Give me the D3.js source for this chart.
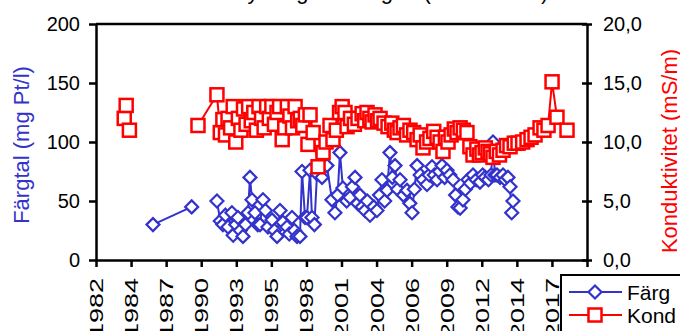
<!DOCTYPE html>
<html>
<head>
<meta charset="utf-8">
<script src="https://cdn.jsdelivr.net/npm/d3@7"></script>
<style>
  body { margin: 0; background: #fff; }
  svg { display: block; font-family: "Liberation Sans", Arial, sans-serif; }
</style>
</head>
<body>
<div id="chart"></div>
<script>
// x axis: date axis, ticks every 2.72 years starting 1982.26
const xStart = 1982.26;
const xStep = 2.72;
const xTickLabels = ["1982", "1984", "1987", "1990", "1993", "1995", "1998",
  "2001", "2004", "2006", "2009", "2012", "2014", "2017", "2020"];
const leftTicks = [0, 50, 100, 150, 200];
const rightTicks = [0, 5, 10, 15, 20];

// Färgtal (mg Pt/l), null = gap
const fargYear = [1986.68, 1989.68, null,
  1991.64, 1991.9, 1992.1, 1992.3, 1992.5, 1992.8, 1992.9, 1993.1, 1993.27, 1993.45,
  1993.66, 1993.85, 1994.05, 1994.2, 1994.36, 1994.59, 1994.8, 1994.98, 1995.21, 1995.4,
  1995.6, 1995.91, 1996.1, 1996.3, 1996.53, 1996.75, 1997.07, 1997.25, 1997.46, 1997.65,
  1997.85, 1998.08, 1998.24, 1998.47, 1998.62, 1998.86, 1999.01, 1999.2, 1999.4, 1999.79,
  2000.17, 2000.56, 2000.79, 2001.0, 2001.18, 2001.41, 2001.7, 2001.96, 2002.15, 2002.35,
  2002.55, 2002.73, 2002.9, 2003.12, 2003.3, 2003.51, 2003.8, 2004.05, 2004.25, 2004.44,
  2004.65, 2004.83, 2005.06, 2005.25, 2005.45, 2005.65, 2005.84, 2006.1, 2006.38, 2006.6,
  2006.77, 2006.95, 2007.16, 2007.4, 2007.62, 2007.93, 2008.1, 2008.32, 2008.5, 2008.71,
  2008.9, 2009.1, 2009.3, 2009.48, 2009.7, 2009.95, 2010.15, 2010.33, 2010.5, 2010.72,
  2010.9, 2011.11, 2011.3, 2011.5, 2011.75, 2012.04, 2012.25, 2012.43, 2012.7, 2012.9,
  2013.05, 2013.2, 2013.36, 2013.6, 2013.83, 2014.0, 2014.21, 2014.37, 2014.5, 2014.6];
const fargValue = [30, 45, null,
  50, 33, 30, 38, 28, 40, 21, 30, 36, 25,
  20, 30, 40, 70, 51, 40, 30, 30, 51, 42,
  28, 34, 25, 20, 42, 32, 28, 22, 36, 25,
  20, 20, 75, 36, 36, 76, 36, 30, 73, 70,
  80, 51, 40, 55, 91, 61, 50, 53, 62, 70,
  48, 55, 45, 42, 50, 38, 45, 42, 55, 68,
  50, 59, 91, 70, 80, 60, 68, 55, 59, 48,
  40, 60, 80, 72, 68, 64, 72, 79, 72, 68,
  75, 80, 70, 76, 72, 68, 55, 45, 44, 51,
  60, 68, 65, 72, 68, 66, 72, 70, 68, 72,
  100, 72, 72, 70, 72, 68, 70, 62, 40, 50];

// Konduktivitet (mS/m), null = gap
const kondYear = [1984.45, 1984.6, 1984.85, null,
  1990.17, 1991.64, 1991.9, 1992.1, 1992.3, 1992.5, 1992.7, 1992.9, 1993.1, 1993.3,
  1993.5, 1993.7, 1993.9, 1994.1, 1994.3, 1994.5, 1994.7, 1994.9, 1995.1, 1995.3,
  1995.5, 1995.7, 1995.9, 1996.1, 1996.3, 1996.5, 1996.7, 1996.9, 1997.1, 1997.3,
  1997.5, 1997.7, 1997.9, 1998.1, 1998.3, 1998.5, 1998.7, 1998.86, 1999.1, 1999.48,
  1999.87, 2000.1, 2000.41, 2000.64, 2000.9, 2001.15, 2001.35, 2001.57, 2001.73, 2002.0,
  2002.3, 2002.58, 2002.9, 2003.1, 2003.28, 2003.5, 2003.67, 2003.9, 2004.1, 2004.29,
  2004.6, 2004.91, 2005.2, 2005.4, 2005.61, 2005.84, 2006.1, 2006.35, 2006.61, 2006.9,
  2007.16, 2007.4, 2007.62, 2007.9, 2008.16, 2008.45, 2008.71, 2008.95, 2009.17, 2009.36,
  2009.56, 2009.8, 2010.05, 2010.26, 2010.5, 2010.75, 2011.03, 2011.26, 2011.5, 2011.8,
  2012.0, 2012.2, 2012.45, 2012.66, 2012.85, 2013.05, 2013.3, 2013.55, 2013.83, 2014.1,
  2014.37, 2014.7, 2014.99, 2015.35, 2015.69, 2016.0, 2016.31, 2016.7, 2017.0, 2017.32,
  2017.63, 2018.01, 2018.79];
const kondValue = [12.0, 13.1, 11.0, null,
  11.4, 14.0, 10.8, 11.9, 10.6, 12.0, 11.2, 13.0, 10.0, 12.0,
  11.0, 12.8, 11.5, 13.0, 11.8, 12.5, 11.0, 13.0, 12.0, 11.2,
  13.0, 12.0, 13.0, 11.5, 12.5, 13.0, 10.2, 11.2, 13.0, 12.2,
  11.2, 13.0, 11.8, 12.0, 11.4, 12.3, 9.8, 12.3, 10.8, 7.9,
  9.1, 10.0, 11.4, 10.2, 11.0, 12.5, 13.0, 12.5, 11.3, 12.0,
  11.5, 12.0, 12.4, 11.8, 12.5, 12.0, 11.7, 12.3, 11.8, 12.0,
  11.6, 11.3, 11.6, 11.0, 10.8, 11.2, 11.4, 10.6, 11.0, 10.8,
  10.2, 10.6, 9.5, 10.0, 10.3, 10.9, 10.4, 10.0, 9.2, 10.4,
  10.0, 10.6, 11.1, 10.8, 11.2, 11.0, 10.8, 9.6, 8.9, 9.4,
  8.9, 9.1, 9.5, 9.2, 9.0, 8.7, 9.2, 8.9, 9.3, 9.7,
  9.6, 9.9, 9.9, 10.0, 10.2, 10.4, 10.6, 11.2, 11.0, 11.4,
  15.1, 12.1, 11.0];

const W = 680, H = 331;
const plot = { left: 96, right: 587, top: 24, bottom: 260 };
const blue = "#3333cc", red = "#ff0000";

const svg = d3.select("#chart").append("svg")
  .attr("width", W).attr("height", H);

const x = d3.scaleLinear()
  .domain([xStart, xStart + xStep * (xTickLabels.length - 1)])
  .range([plot.left, plot.right]);
const yL = d3.scaleLinear().domain([0, 200]).range([plot.bottom, plot.top]);
const yR = d3.scaleLinear().domain([0, 20]).range([plot.bottom, plot.top]);

const sv = d3.formatLocale({ decimal: ",", thousands: " ", grouping: [3], currency: ["", " kr"] });

// title (only its descenders fall inside the picture)
svg.append("text")
  .attr("x", 236).attr("y", -1)
  .attr("font-size", 22)
  .text("Lyrån göl vid Ågen (1982–2018)");

// top border of plot
svg.append("line")
  .attr("x1", plot.left).attr("x2", plot.right)
  .attr("y1", plot.top).attr("y2", plot.top)
  .attr("stroke", "#000").attr("stroke-width", 2.5);

// axes
const xTicks = xTickLabels.map((d, i) => xStart + i * xStep);
const gx = svg.append("g")
  .attr("transform", `translate(0,${plot.bottom})`)
  .call(d3.axisBottom(x).tickValues(xTicks).tickSize(7).tickSizeOuter(0).tickFormat(""));

gx.selectAll(".tick").append("text")
  .attr("fill", "#000")
  .attr("font-size", 18)
  .attr("text-anchor", "end")
  .attr("transform", "translate(0,18) rotate(-90) scale(1.5,1)")
  .attr("dy", "0.36em")
  .text((d, i) => xTickLabels[i]);

const gl = svg.append("g")
  .attr("transform", `translate(${plot.left},0)`)
  .call(d3.axisLeft(yL).tickValues(leftTicks).tickSize(7).tickSizeOuter(0).tickPadding(9));
gl.selectAll(".tick text").attr("font-size", 20).attr("fill", "#000");

const gr = svg.append("g")
  .attr("transform", `translate(${plot.right},0)`)
  .call(d3.axisRight(yR).tickValues(rightTicks).tickSize(5).tickSizeOuter(0).tickPadding(11)
    .tickFormat(sv.format(".1f")));
gr.selectAll(".tick line").attr("x1", -5);
gr.selectAll(".tick text").attr("font-size", 20).attr("fill", "#000");

svg.selectAll(".domain, .tick line").attr("stroke", "#000").attr("stroke-width", 2.5);

// axis titles
svg.append("text")
  .attr("transform", "translate(29,145) rotate(-90)")
  .attr("text-anchor", "middle")
  .attr("font-size", 22)
  .attr("fill", blue)
  .text("Färgtal (mg Pt/l)");

svg.append("text")
  .attr("transform", "translate(677,151) rotate(-90)")
  .attr("text-anchor", "middle")
  .attr("font-size", 22)
  .attr("fill", red)
  .text("Konduktivitet (mS/m)");

// series
const diamond = "M0,-6.5L6.5,0L0,6.5L-6.5,0Z";

function series(years, values, yScale, color, kind) {
  const pts = years.map((d, i) => ({ t: d, v: values[i] }));
  const line = d3.line()
    .defined(d => d.t != null && d.v != null)
    .x(d => x(d.t)).y(d => yScale(d.v));
  const g = svg.append("g");
  g.append("path")
    .datum(pts)
    .attr("d", line)
    .attr("fill", "none")
    .attr("stroke", color)
    .attr("stroke-width", 2);
  const good = pts.filter(d => d.t != null && d.v != null);
  if (kind === "diamond") {
    g.selectAll("path.m").data(good).enter().append("path")
      .attr("class", "m")
      .attr("d", diamond)
      .attr("transform", d => `translate(${x(d.t)},${yScale(d.v)})`)
      .attr("fill", "#fff").attr("stroke", color).attr("stroke-width", 2.2);
  } else {
    g.selectAll("rect").data(good).enter().append("rect")
      .attr("x", d => x(d.t) - 6.5).attr("y", d => yScale(d.v) - 6.5)
      .attr("width", 13).attr("height", 13)
      .attr("fill", "#fff").attr("stroke", color).attr("stroke-width", 2.5);
  }
}

series(fargYear, fargValue, yL, blue, "diamond");
series(kondYear, kondValue, yR, red, "square");

// legend
const lg = svg.append("g").attr("transform", "translate(561,275)");
lg.append("rect")
  .attr("width", 130).attr("height", 70)
  .attr("fill", "#fff").attr("stroke", "#000").attr("stroke-width", 2);
const legendItems = [
  { name: "Färg", color: blue, kind: "diamond" },
  { name: "Kond", color: red, kind: "square" }
];
legendItems.forEach((it, i) => {
  const row = lg.append("g").attr("transform", `translate(0,${17 + i * 23})`);
  row.append("line").attr("x1", 8).attr("x2", 61)
    .attr("stroke", it.color).attr("stroke-width", 2);
  if (it.kind === "diamond") {
    row.append("path").attr("d", diamond).attr("transform", "translate(34,0)")
      .attr("fill", "#fff").attr("stroke", it.color).attr("stroke-width", 2.2);
  } else {
    row.append("rect").attr("x", 27.5).attr("y", -6.5).attr("width", 13).attr("height", 13)
      .attr("fill", "#fff").attr("stroke", it.color).attr("stroke-width", 2.5);
  }
  row.append("text").attr("x", 66).attr("dy", "0.36em")
    .attr("font-size", 21).attr("fill", "#000").text(it.name);
});
</script>
</body>
</html>
